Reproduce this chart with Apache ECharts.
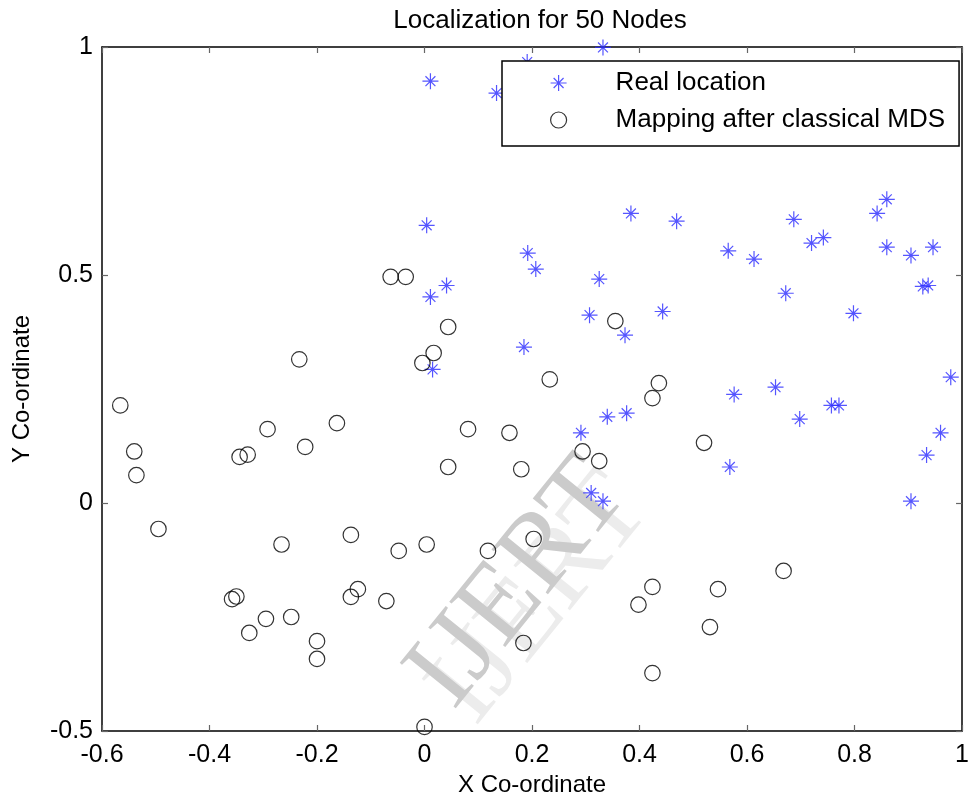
<!DOCTYPE html>
<html>
<head>
<meta charset="utf-8">
<script src="https://cdn.jsdelivr.net/npm/echarts@6/dist/echarts.min.js"></script>
<style>
html,body{margin:0;padding:0;background:#fff;}
#chart{width:972px;height:802px;}
</style>
</head>
<body>
<div id="chart"></div>
<script>
// ---- data ----
const titleText = 'Localization for 50 Nodes';
const seriesNames = ['Real location', 'Mapping after classical MDS'];
const xTicks = [-0.6, -0.4, -0.2, 0, 0.2, 0.4, 0.6, 0.8, 1];
const yTicks = [-0.5, 0, 0.5, 1];

const realX = [0.011, 0.004, 0.041, 0.011, 0.015, 0.332, 0.191, 0.134, 0.384, 0.469,
  0.687, 0.842, 0.860, 0.720, 0.742, 0.860, 0.905, 0.946, 0.565, 0.613,
  0.192, 0.207, 0.325, 0.672, 0.927, 0.937, 0.307, 0.443, 0.373, 0.798,
  0.185, 0.979, 0.653, 0.576, 0.757, 0.771, 0.291, 0.340, 0.376, 0.698,
  0.568, 0.310, 0.332, 0.905, 0.934, 0.960];
const realY = [0.925, 0.609, 0.477, 0.452, 0.293, 0.999, 0.967, 0.899, 0.635, 0.618,
  0.622, 0.635, 0.666, 0.570, 0.582, 0.561, 0.543, 0.561, 0.553, 0.535,
  0.548, 0.513, 0.491, 0.460, 0.475, 0.477, 0.412, 0.420, 0.368, 0.416,
  0.342, 0.276, 0.254, 0.238, 0.214, 0.214, 0.154, 0.189, 0.197, 0.184,
  0.079, 0.022, 0.004, 0.004, 0.105, 0.154];

const mdsX = [-0.063, -0.035, 0.044, 0.017, -0.004, -0.233, -0.566, -0.292, -0.163, -0.540,
  -0.536, -0.344, -0.329, -0.222, 0.081, 0.044, -0.495, -0.266, -0.137, -0.048,
  0.004, 0.118, -0.358, -0.350, -0.295, -0.248, -0.326, -0.200, -0.200, -0.137,
  -0.124, -0.071, 0.000, 0.158, 0.180, 0.294, 0.325, 0.520, 0.203, 0.424,
  0.398, 0.546, 0.531, 0.668, 0.184, 0.424, 0.436, 0.424, 0.355, 0.233];
const mdsY = [0.496, 0.496, 0.386, 0.329, 0.307, 0.315, 0.214, 0.162, 0.175, 0.113,
  0.061, 0.101, 0.106, 0.123, 0.162, 0.079, -0.057, -0.091, -0.070, -0.105,
  -0.091, -0.105, -0.211, -0.205, -0.254, -0.250, -0.285, -0.303, -0.342, -0.206,
  -0.189, -0.215, -0.491, 0.154, 0.074, 0.113, 0.092, 0.132, -0.079, -0.184,
  -0.223, -0.189, -0.272, -0.149, -0.307, -0.373, 0.263, 0.230, 0.399, 0.271];

const watermarkText = 'IJERT';

// ---- chart ----
const starPath = 'path://M0,-1L0,1M-1,0L1,0M-0.62,-0.62L0.62,0.62M-0.62,0.62L0.62,-0.62';
const FONT = '"Liberation Sans", Arial, sans-serif';
const realData = realX.map((x, i) => [x, realY[i]]);
const mdsData = mdsX.map((x, i) => [x, mdsY[i]]);

const chart = echarts.init(document.getElementById('chart'), null, {renderer: 'canvas'});

function xAxisCfg(pos, showLabel) {
  return {
    type: 'value', position: pos,
    min: xTicks[0], max: xTicks[xTicks.length - 1], interval: 0.2,
    axisLine: {show: true, onZero: false, lineStyle: {color: '#000', width: 1.5}},
    axisTick: {show: true, inside: true, length: 6, lineStyle: {color: '#666', width: 1.2}},
    axisLabel: {show: showLabel, fontSize: 25, fontFamily: FONT, color: '#000', margin: 12,
      formatter: v => String(Math.round(v * 10) / 10)},
    splitLine: {show: false},
    name: showLabel ? 'X Co-ordinate' : '',
    nameLocation: 'middle', nameGap: 42,
    nameTextStyle: {fontSize: 24, fontFamily: FONT, color: '#000'}
  };
}
function yAxisCfg(pos, showLabel) {
  return {
    type: 'value', position: pos,
    min: yTicks[0], max: yTicks[yTicks.length - 1], interval: 0.5,
    axisLine: {show: true, onZero: false, lineStyle: {color: '#000', width: 1.5}},
    axisTick: {show: true, inside: true, length: 6, lineStyle: {color: '#666', width: 1.2}},
    axisLabel: {show: showLabel, fontSize: 25, fontFamily: FONT, color: '#000', margin: 9,
      formatter: v => String(Math.round(v * 10) / 10)},
    splitLine: {show: false},
    name: showLabel ? 'Y Co-ordinate' : '',
    nameLocation: 'middle', nameGap: 68,
    nameTextStyle: {fontSize: 24, fontFamily: FONT, color: '#000'}
  };
}

const option = {
  backgroundColor: '#fff',
  animation: false,
  title: {
    text: titleText, left: 535, top: 3, textAlign: 'center',
    textStyle: {fontSize: 26, fontWeight: 'normal', fontFamily: FONT, color: '#000'}
  },
  grid: {left: 102, right: 2, top: 47, bottom: 71, containLabel: false},
  xAxis: [xAxisCfg('bottom', true), xAxisCfg('top', false)],
  yAxis: [yAxisCfg('left', true), yAxisCfg('right', false)],
  legend: {
    orient: 'vertical', left: 502, top: 61,
    padding: [9, 14, 13, 48],
    itemWidth: 16, itemHeight: 16, itemGap: 11,
    backgroundColor: '#fff', borderColor: '#000', borderWidth: 1.5,
    textStyle: {fontSize: 26, fontFamily: FONT, color: '#000', lineHeight: 26,
      padding: [0, 0, 0, 44]},
    data: [
      {name: seriesNames[0], icon: starPath,
       itemStyle: {color: 'transparent', borderColor: '#2a2aff', borderWidth: 1.2}},
      {name: seriesNames[1], icon: 'circle',
       itemStyle: {color: 'transparent', borderColor: '#000', borderWidth: 1.2}}
    ]
  },
  graphic: [
    {type: 'text', x: 541, y: 600, rotation: 51 * Math.PI / 180, z: -10, silent: true,
     style: {text: watermarkText, font: '110px "Liberation Serif", "Times New Roman", serif',
       fill: '#ececec', align: 'center', verticalAlign: 'middle'}},
    {type: 'text', x: 519, y: 584, rotation: 51 * Math.PI / 180, z: -9, silent: true,
     style: {text: watermarkText, font: '110px "Liberation Serif", "Times New Roman", serif',
       fill: '#cbcbcb', align: 'center', verticalAlign: 'middle'}}
  ],
  series: [
    {
      name: seriesNames[0], type: 'scatter', xAxisIndex: 0, yAxisIndex: 0,
      symbol: starPath, symbolSize: 16, clip: false,
      itemStyle: {color: 'transparent', borderColor: '#2a2aff', borderWidth: 1.2},
      data: realData, z: 3
    },
    {
      name: seriesNames[1], type: 'scatter', xAxisIndex: 0, yAxisIndex: 0,
      symbol: 'circle', symbolSize: 15.5, clip: false,
      itemStyle: {color: 'transparent', borderColor: '#000', borderWidth: 1.2},
      data: mdsData, z: 3
    }
  ]
};
chart.setOption(option);
</script>
</body>
</html>
